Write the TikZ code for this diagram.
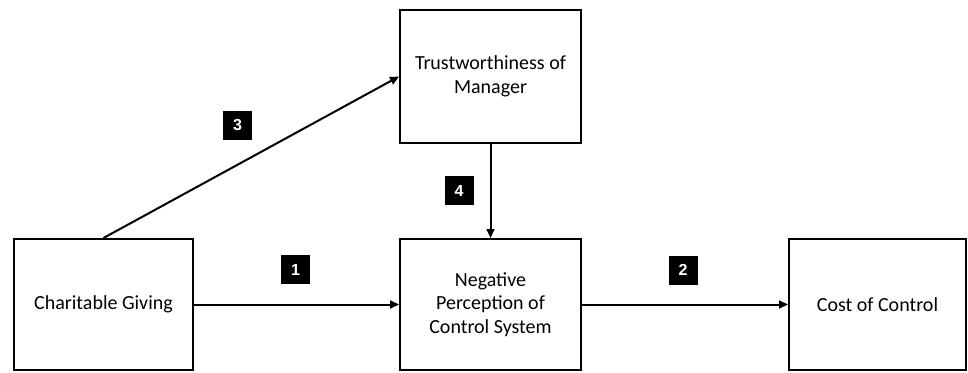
\documentclass[tikz,border=0pt]{standalone}
\usepackage{fontspec}
\setmainfont{Carlito}
\newfontfamily\labelfont{Liberation Sans}
\usetikzlibrary{arrows.meta}
\begin{document}
\begin{tikzpicture}[x=1pt,y=-1pt,
  box/.style={draw=black,line width=2pt,fill=white,align=center,inner sep=0pt,
    font=\fontsize{20}{23.5}\selectfont},
  numtag/.style={fill=black,text=white,minimum size=29pt,inner sep=0pt,
    font=\labelfont\bfseries\fontsize{16}{16}\selectfont},
  conn/.style={line width=2pt,-{Triangle[length=9pt,width=8pt]}}]
\useasboundingbox (0,0) rectangle (968,372);
\node[box,minimum width=179pt,minimum height=131pt] (cg) at (103.5,304.5) {Charitable Giving};
\node[box,minimum width=181pt,minimum height=133pt] (tm) at (490.5,76.5) {Trustworthiness of\\Manager};
\node[box,minimum width=181pt,minimum height=131pt] (np) at (490.5,304.5) {Negative\\Perception of\\Control System};
\node[box,minimum width=177pt,minimum height=131pt] (cc) at (877.5,304.5) {Cost of Control};
\draw[conn] (cg.north) -- (tm.west);
\draw[conn] (cg.east) -- (np.west);
\draw[conn] (tm.south) -- (np.north);
\draw[conn] (np.east) -- (cc.west);
\node[numtag] (n3) at (237.5,125.5) {3};
\node[numtag] (n4) at (459,190.5) {4};
\node[numtag] (n1) at (295.5,269.5) {1};
\node[numtag] (n2) at (683,270) {2};
\end{tikzpicture}
\end{document}
